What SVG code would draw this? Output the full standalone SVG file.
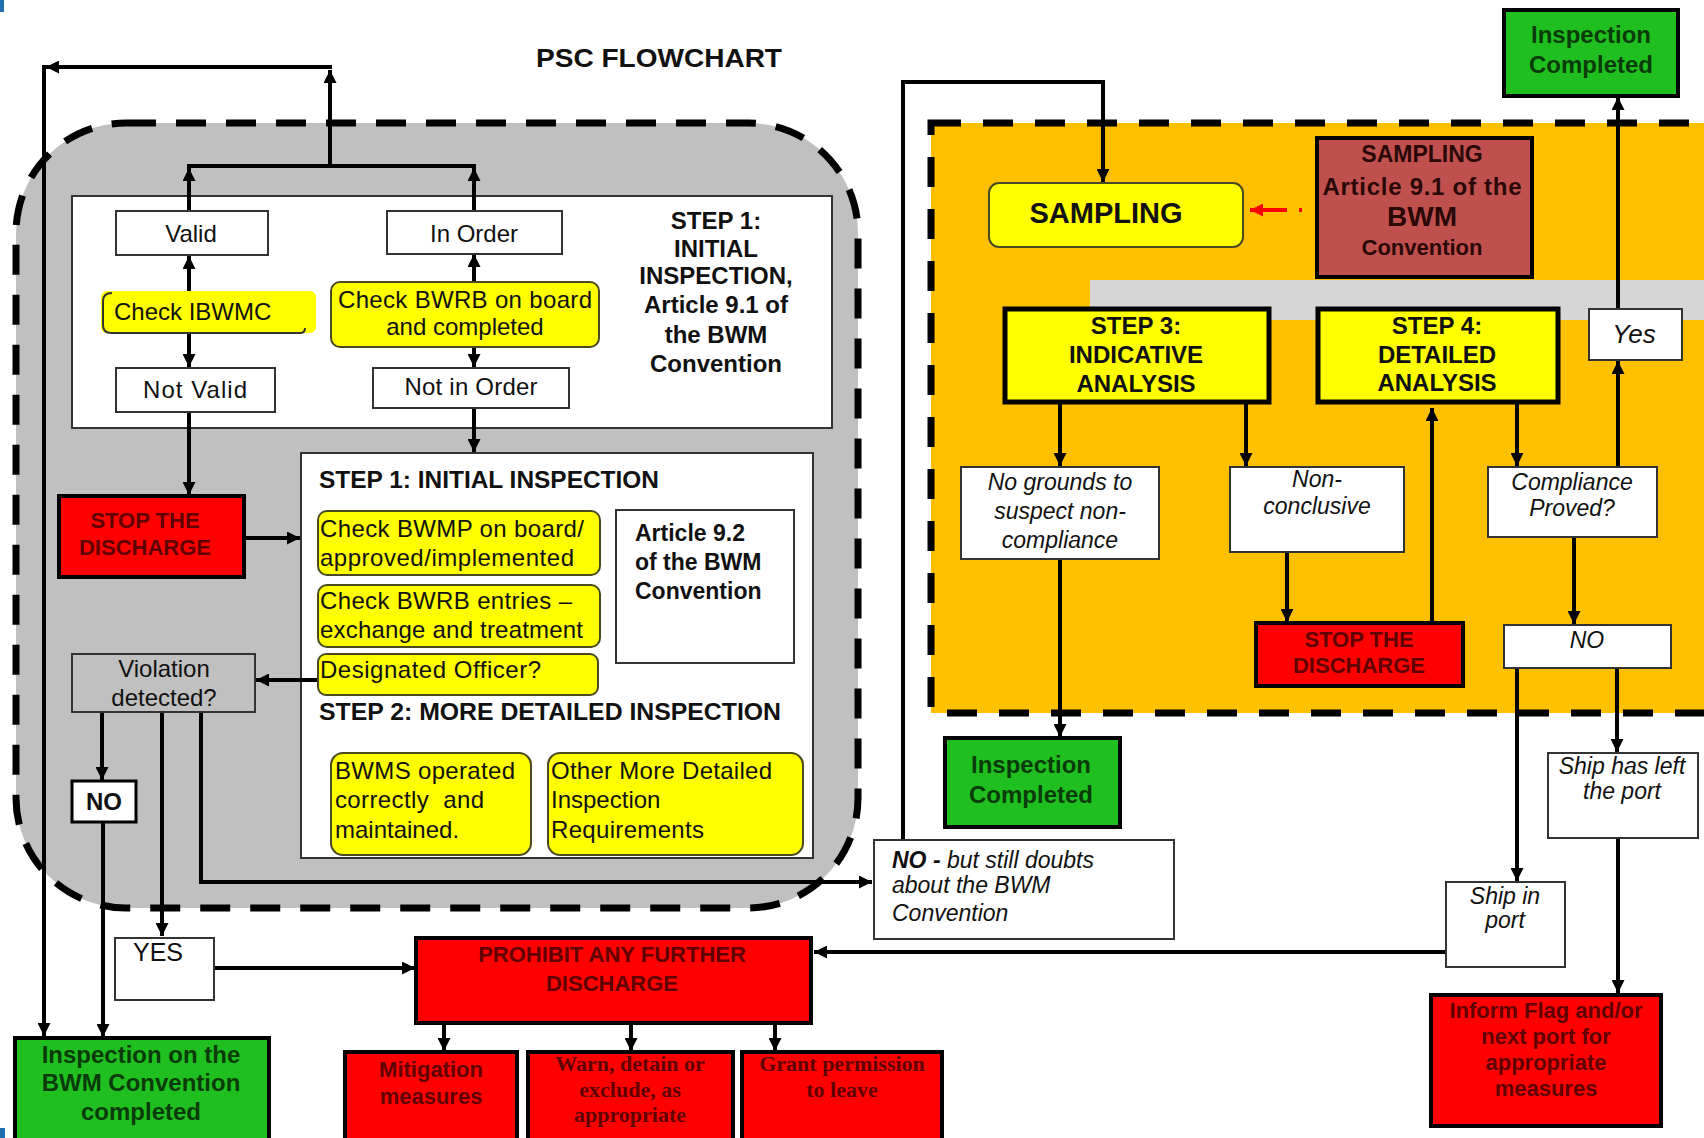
<svg xmlns="http://www.w3.org/2000/svg" width="1704" height="1138" viewBox="0 0 1704 1138">
<defs>
<marker id="arr" viewBox="0 0 10 10" refX="10" refY="5" markerWidth="14" markerHeight="13" markerUnits="userSpaceOnUse" orient="auto">
<path d="M0,0 L10,5 L0,10 z" fill="#000"/>
</marker>
<marker id="arrRed" viewBox="0 0 10 10" refX="10" refY="5" markerWidth="14" markerHeight="13" markerUnits="userSpaceOnUse" orient="auto">
<path d="M0,0 L10,5 L0,10 z" fill="#f00"/>
</marker>
<style>
text{font-family:"Liberation Sans",Arial,sans-serif;fill:#111;}
.t24{font-size:24px;}
.b24{font-size:24px;font-weight:bold;}
.i23{font-size:23px;font-style:italic;}
.c{text-anchor:middle;}
.wbox{fill:#fff;stroke:#333;stroke-width:2;}
.ybox{fill:#ffff00;stroke:#4a4a20;stroke-width:2;}
.ystep{fill:#ffff00;stroke:#000;stroke-width:5;}
.rbox{fill:#ff0000;stroke:#000;stroke-width:4;}
.gbox{fill:#1fbf1f;stroke:#000;stroke-width:4;}
.rt{font-size:22px;font-weight:bold;fill:#600000;}
.rts{font-family:"Liberation Serif","Times New Roman",serif;font-size:22px;font-weight:bold;fill:#600000;}
.gt{font-size:24px;font-weight:bold;fill:#0b3b0b;}
.conn path{fill:none;stroke:#000;stroke-width:4;}
.conn path.a{marker-end:url(#arr);}
</style>
</defs>
<rect width="1704" height="1138" fill="#fff"/>
<rect x="0" y="0" width="4" height="12" fill="#1f6fb0"/>
<rect x="0" y="1128" width="5" height="10" fill="#1f6fb0"/>

<!-- region backgrounds -->
<g id="region-left">
<rect x="16" y="123" width="842" height="785" rx="110" ry="110" fill="#c0c0c0" stroke="#000" stroke-width="7" stroke-dasharray="30 20"/>
<rect x="72" y="196" width="760" height="232" fill="#fff" stroke="#333" stroke-width="2"/>
<rect x="301" y="453" width="512" height="405" fill="#fff" stroke="#333" stroke-width="2"/>
</g>
<g id="region-right">
<rect x="931" y="123" width="820" height="590" fill="#ffc000" stroke="#000" stroke-width="7" stroke-dasharray="30 22"/>
<rect x="1090" y="280" width="614" height="40" fill="#d6d6d6"/>
</g>

<text id="title" x="536" y="67" style="font-size:26px;font-weight:bold;" textLength="246" lengthAdjust="spacingAndGlyphs">PSC FLOWCHART</text>

<g id="step1-label">
<text x="716" y="229" class="b24 c">STEP 1:</text>
<text x="716" y="257" class="b24 c">INITIAL</text>
<text x="716" y="284" class="b24 c">INSPECTION,</text>
<text x="716" y="313" class="b24 c">Article 9.1 of</text>
<text x="716" y="343" class="b24 c">the BWM</text>
<text x="716" y="372" class="b24 c">Convention</text>
</g>
<text id="step1-initial" x="319" y="488" class="b24" textLength="340" lengthAdjust="spacingAndGlyphs">STEP 1: INITIAL INSPECTION</text>
<text id="step2-detailed" x="319" y="720" class="b24" textLength="462" lengthAdjust="spacingAndGlyphs">STEP 2: MORE DETAILED INSPECTION</text>

<!-- connectors -->
<g id="connectors" class="conn">
<path d="M187,166 H476"/>
<path class="a" d="M189,211 V168"/>
<path class="a" d="M474,211 V168"/>
<path class="a" d="M330,166 V70"/>
<path class="a" d="M332,67 H46"/>
<path class="a" d="M44,65 V1036"/>
<path class="a" d="M189,291 V256"/>
<path class="a" d="M189,333 V367"/>
<path class="a" d="M474,282 V254"/>
<path class="a" d="M474,347 V367"/>
<path class="a" d="M189,412 V495"/>
<path class="a" d="M474,408 V452"/>
<path class="a" d="M244,538 H300"/>
<path class="a" d="M318,680 H256"/>
<path class="a" d="M102,712 V780"/>
<path class="a" d="M103,822 V1037"/>
<path class="a" d="M162,712 V936"/>
<path class="a" d="M201,712 V882 H872"/>
<path class="a" d="M214,968 H415"/>
<path class="a" d="M444,1023 V1051"/>
<path class="a" d="M631,1023 V1051"/>
<path class="a" d="M775,1023 V1051"/>
<path class="a" d="M903,840 V82 H1103 V182"/>
<path d="M1302,210 H1250" style="stroke:#f00;stroke-dasharray:3 12 40;marker-end:url(#arrRed);"/>
<path class="a" d="M1060,402 V466"/>
<path class="a" d="M1246,402 V466"/>
<path class="a" d="M1060,559 V737"/>
<path class="a" d="M1287,552 V622"/>
<path class="a" d="M1432,623 V408"/>
<path class="a" d="M1517,402 V466"/>
<path class="a" d="M1618,467 V361"/>
<path class="a" d="M1618,309 V97"/>
<path class="a" d="M1574,537 V624"/>
<path class="a" d="M1517,668 V881"/>
<path class="a" d="M1617,668 V752"/>
<path class="a" d="M1618,838 V993"/>
<path class="a" d="M1446,952 H814"/>
</g>

<!-- nodes left -->
<g id="n-valid"><rect x="116" y="211" width="152" height="44" class="wbox"/><text x="191" y="242" class="t24 c">Valid</text></g>
<g id="n-inorder"><rect x="387" y="211" width="175" height="43" class="wbox"/><text x="474" y="242" class="t24 c">In Order</text></g>
<g id="n-check-ibwmc">
<rect x="101" y="291" width="215" height="42" rx="6" fill="#ffff00"/>
<path d="M112,293 Q103,293 103,301 L103,325 Q103,333 111,333 L300,333 Q305,333 305,328" fill="none" stroke="#333" stroke-width="2"/>
<text x="114" y="320" class="t24">Check IBWMC</text>
</g>
<g id="n-check-bwrb"><rect x="331" y="282" width="268" height="65" rx="9" class="ybox"/>
<text x="465" y="308" class="t24 c" textLength="254">Check BWRB on board</text>
<text x="465" y="335" class="t24 c">and completed</text></g>
<g id="n-notvalid"><rect x="116" y="368" width="159" height="44" class="wbox"/><text x="195" y="398" class="t24 c" textLength="104">Not Valid</text></g>
<g id="n-notinorder"><rect x="373" y="368" width="196" height="40" class="wbox"/><text x="471" y="395" class="t24 c" textLength="133">Not in Order</text></g>
<g id="n-stop-left"><rect x="59" y="496" width="185" height="81" class="rbox"/>
<text x="145" y="528" class="rt c">STOP THE</text>
<text x="145" y="555" class="rt c">DISCHARGE</text></g>
<g id="n-bwmp"><rect x="318" y="511" width="282" height="64" rx="9" class="ybox"/>
<text x="320" y="537" class="t24" textLength="264">Check BWMP on board/</text>
<text x="320" y="566" class="t24" textLength="254">approved/implemented</text></g>
<g id="n-bwrb-entries"><rect x="318" y="585" width="282" height="62" rx="9" class="ybox"/>
<text x="320" y="609" class="t24" textLength="252">Check BWRB entries –</text>
<text x="320" y="638" class="t24" textLength="263">exchange and treatment</text></g>
<g id="n-designated"><rect x="318" y="654" width="280" height="41" rx="8" class="ybox"/>
<text x="320" y="678" class="t24" textLength="221">Designated Officer?</text></g>
<g id="n-article92"><rect x="616" y="510" width="178" height="153" class="wbox"/>
<text x="635" y="541" style="font-size:23px;font-weight:bold;">Article 9.2</text>
<text x="635" y="570" style="font-size:23px;font-weight:bold;">of the BWM</text>
<text x="635" y="599" style="font-size:23px;font-weight:bold;">Convention</text></g>
<g id="n-violation"><rect x="72" y="654" width="183" height="58" fill="#c0c0c0" stroke="#333" stroke-width="2"/>
<text x="164" y="677" class="t24 c">Violation</text>
<text x="164" y="706" class="t24 c">detected?</text></g>
<g id="n-bwms"><rect x="331" y="753" width="200" height="102" rx="12" class="ybox"/>
<text x="335" y="779" class="t24" textLength="180">BWMS operated</text>
<text x="335" y="808" class="t24" textLength="149" xml:space="preserve">correctly  and</text>
<text x="335" y="838" class="t24">maintained.</text></g>
<g id="n-other"><rect x="548" y="753" width="255" height="102" rx="12" class="ybox"/>
<text x="551" y="779" class="t24" textLength="221">Other More Detailed</text>
<text x="551" y="808" class="t24">Inspection</text>
<text x="551" y="838" class="t24" textLength="153">Requirements</text></g>
<g id="n-no-left"><rect x="72" y="781" width="64" height="41" fill="#fff" stroke="#000" stroke-width="3"/>
<text x="104" y="810" class="b24 c">NO</text></g>
<g id="n-yes"><rect x="115" y="938" width="99" height="62" class="wbox"/>
<text x="158" y="961" class="c" style="font-size:25px;">YES</text></g>
<g id="n-bwm-completed"><rect x="15" y="1038" width="254" height="110" class="gbox"/>
<text x="141" y="1063" class="gt c">Inspection on the</text>
<text x="141" y="1091" class="gt c">BWM Convention</text>
<text x="141" y="1120" class="gt c">completed</text></g>
<g id="n-prohibit"><rect x="416" y="938" width="395" height="85" class="rbox"/>
<text x="612" y="962" class="rt c">PROHIBIT ANY FURTHER</text>
<text x="612" y="991" class="rt c">DISCHARGE</text></g>
<g id="n-mitigation"><rect x="345" y="1052" width="172" height="96" class="rbox"/>
<text x="431" y="1077" class="rt c">Mitigation</text>
<text x="431" y="1104" class="rt c">measures</text></g>
<g id="n-warn"><rect x="528" y="1052" width="205" height="96" class="rbox"/>
<text x="630" y="1071" class="rts c">Warn, detain or</text>
<text x="630" y="1097" class="rts c">exclude, as</text>
<text x="630" y="1122" class="rts c">appropriate</text></g>
<g id="n-grant"><rect x="742" y="1052" width="200" height="96" class="rbox"/>
<text x="842" y="1071" class="rts c">Grant permission</text>
<text x="842" y="1097" class="rts c">to leave</text></g>

<!-- nodes right -->
<g id="n-insp-top"><rect x="1504" y="10" width="174" height="86" class="gbox"/>
<text x="1591" y="43" class="gt c">Inspection</text>
<text x="1591" y="73" class="gt c">Completed</text></g>
<g id="n-sampling"><rect x="989" y="183" width="254" height="64" rx="10" class="ybox"/>
<text x="1106" y="223" class="c" style="font-size:29px;font-weight:bold;">SAMPLING</text></g>
<g id="n-sampling-article"><rect x="1317" y="138" width="215" height="139" fill="#c0504d" stroke="#000" stroke-width="4"/>
<text x="1422" y="162" class="c" style="font-size:23px;font-weight:bold;fill:#2a0808;">SAMPLING</text>
<text x="1422" y="195" class="c" style="font-size:24px;font-weight:bold;fill:#2a0808;" textLength="199">Article 9.1 of the</text>
<text x="1422" y="226" class="c" style="font-size:28px;font-weight:bold;fill:#2a0808;">BWM</text>
<text x="1422" y="255" class="c" style="font-size:22px;font-weight:bold;fill:#2a0808;">Convention</text></g>
<g id="n-step3"><rect x="1005" y="309" width="264" height="93" class="ystep"/>
<text x="1136" y="334" class="b24 c">STEP 3:</text>
<text x="1136" y="363" class="b24 c">INDICATIVE</text>
<text x="1136" y="392" class="b24 c">ANALYSIS</text></g>
<g id="n-step4"><rect x="1318" y="309" width="240" height="93" class="ystep"/>
<text x="1437" y="334" class="b24 c">STEP 4:</text>
<text x="1437" y="363" class="b24 c">DETAILED</text>
<text x="1437" y="391" class="b24 c">ANALYSIS</text></g>
<g id="n-yes-right"><rect x="1589" y="309" width="93" height="51" class="wbox"/>
<text x="1634" y="343" class="c" style="font-size:26px;font-style:italic;">Yes</text></g>
<g id="n-nogrounds"><rect x="961" y="467" width="198" height="92" class="wbox"/>
<text x="1060" y="490" class="i23 c">No grounds to</text>
<text x="1060" y="519" class="i23 c">suspect non-</text>
<text x="1060" y="548" class="i23 c">compliance</text></g>
<g id="n-nonconclusive"><rect x="1230" y="467" width="174" height="85" class="wbox"/>
<text x="1317" y="487" class="i23 c">Non-</text>
<text x="1317" y="514" class="i23 c">conclusive</text></g>
<g id="n-compliance"><rect x="1488" y="467" width="169" height="70" class="wbox"/>
<text x="1572" y="490" class="i23 c">Compliance</text>
<text x="1572" y="516" class="i23 c">Proved?</text></g>
<g id="n-stop-right"><rect x="1256" y="623" width="207" height="63" class="rbox"/>
<text x="1359" y="647" class="rt c">STOP THE</text>
<text x="1359" y="673" class="rt c">DISCHARGE</text></g>
<g id="n-no-right"><rect x="1504" y="625" width="167" height="43" class="wbox"/>
<text x="1587" y="648" class="i23 c">NO</text></g>
<g id="n-insp-mid"><rect x="945" y="738" width="175" height="89" class="gbox"/>
<text x="1031" y="773" class="gt c">Inspection</text>
<text x="1031" y="803" class="gt c">Completed</text></g>
<g id="n-shipleft"><rect x="1548" y="753" width="150" height="85" class="wbox"/>
<text x="1622" y="774" class="i23 c">Ship has left</text>
<text x="1622" y="799" class="i23 c">the port</text></g>
<g id="n-nobut"><rect x="874" y="840" width="300" height="99" class="wbox"/>
<text x="892" y="868" class="i23"><tspan font-weight="bold">NO -</tspan> but still doubts</text>
<text x="892" y="893" class="i23">about the BWM</text>
<text x="892" y="921" class="i23">Convention</text></g>
<g id="n-shipinport"><rect x="1446" y="882" width="119" height="85" class="wbox"/>
<text x="1505" y="904" class="i23 c">Ship in</text>
<text x="1505" y="928" class="i23 c">port</text></g>
<g id="n-inform"><rect x="1431" y="995" width="230" height="131" class="rbox"/>
<text x="1546" y="1018" class="rt c">Inform Flag and/or</text>
<text x="1546" y="1044" class="rt c">next port for</text>
<text x="1546" y="1070" class="rt c">appropriate</text>
<text x="1546" y="1096" class="rt c">measures</text></g>
</svg>
